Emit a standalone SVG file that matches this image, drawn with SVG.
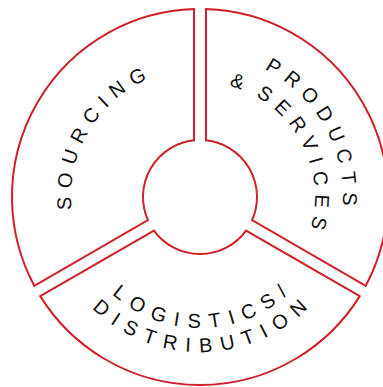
<svg xmlns="http://www.w3.org/2000/svg" width="383" height="387" viewBox="0 0 383 387">
  <style>
    .seg { fill: #ffffff; stroke: #d0202a; stroke-width: 2; stroke-linejoin: miter; }
    .lbl { font-family: "Liberation Sans", Arial, sans-serif; font-size: 20px; fill: #111111; }
  </style>
  <defs>
    <path id="pSourcing" d="M 117.08 295.82 A 129 129 0 0 1 244.12 75.78"/>
    <path id="pProducts" d="M 151.09 62.62 A 143 143 0 0 1 291.92 306.54"/>
    <path id="pServices" d="M 160.67 88.94 A 115 115 0 0 1 273.92 285.10"/>
    <path id="pLogistics" d="M 70.99 219.75 A 131 131 0 0 0 329.01 219.75"/>
    <path id="pDistribution" d="M 47.35 223.92 A 155 155 0 0 0 352.65 223.92"/>
  </defs>
  <rect width="383" height="387" fill="#ffffff"/>
  <g id="sourcing">
    <path class="seg" d="M 194 140.32 L 194 9.10 A 188 188 0 0 0 34.27 285.76 L 147.91 220.15 A 57 57 0 0 1 194 140.32 Z"/>
    <text class="lbl" letter-spacing="7.6"><textPath href="#pSourcing" startOffset="183.9" text-anchor="middle">SOURCING</textPath></text>
  </g>
  <g id="products-services">
    <path class="seg" d="M 206 140.32 L 206 9.10 A 188 188 0 0 1 365.73 285.76 L 252.09 220.15 A 57 57 0 0 0 206 140.32 Z"/>
    <text class="lbl" letter-spacing="7.7"><textPath href="#pProducts" startOffset="203.5" text-anchor="middle">PRODUCTS</textPath></text>
    <text class="lbl" letter-spacing="7.6" word-spacing="-5.6"><textPath href="#pServices" startOffset="164.4" text-anchor="middle">&amp; SERVICES</textPath></text>
  </g>
  <g id="logistics-distribution">
    <path class="seg" d="M 153.91 230.54 L 40.27 296.15 A 188 188 0 0 0 359.73 296.15 L 246.09 230.54 A 57 57 0 0 1 153.91 230.54 Z"/>
    <text class="lbl" letter-spacing="9"><textPath href="#pLogistics" startOffset="187.4" text-anchor="middle">LOGISTICS/</textPath></text>
    <text class="lbl" letter-spacing="8.9"><textPath href="#pDistribution" startOffset="220.9" text-anchor="middle">DISTRIBUTION</textPath></text>
  </g>
  <g id="connectors"/>
</svg>
